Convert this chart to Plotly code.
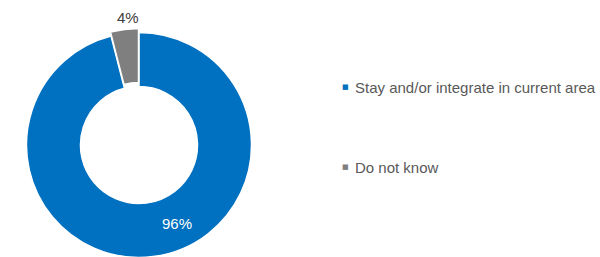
import plotly.graph_objects as go

labels = ["Stay and/or integrate in current area", "Do not know"]
values = [96, 4]
colors = ["#0070C0", "#7F7F7F"]
pct_text = ["96%", "4%"]

FONT = "Liberation Sans, Arial, sans-serif"
W, H = 600, 275  # page viewport is 257 tall; bottom of the ring is cut off as in the reference

CX, CY, R, PULL = 139, 145, 112.5, 0.035
half = R * (1 + PULL)

fig = go.Figure(go.Pie(
    labels=labels,
    values=values,
    hole=0.52,
    sort=False,
    direction="clockwise",
    rotation=0,
    pull=[0, PULL],
    marker=dict(colors=colors, line=dict(color="white", width=1.5)),
    textinfo="none",
    hoverinfo="label+percent",
    showlegend=False,
    domain=dict(x=[(CX - half) / W, (CX + half) / W],
                y=[1 - (CY + half) / H, 1 - (CY - half) / H]),
))

def px(x, y):
    return x / W, 1 - y / H

ann = []
x, y = px(177, 223)
ann.append(dict(x=x, y=y, xref="paper", yref="paper", text=pct_text[0], showarrow=False,
                xanchor="center", yanchor="middle",
                font=dict(family=FONT, size=15, color="white")))
x, y = px(128, 18)
ann.append(dict(x=x, y=y, xref="paper", yref="paper", text=pct_text[1], showarrow=False,
                xanchor="center", yanchor="middle",
                font=dict(family=FONT, size=15, color="#404040")))

leg_y = [87, 167]
for i, (lab, col) in enumerate(zip(labels, colors)):
    x, y = px(345, leg_y[i])
    ann.append(dict(x=x, y=y, xref="paper", yref="paper", text="■", showarrow=False,
                    xanchor="center", yanchor="middle",
                    font=dict(family="DejaVu Sans", size=7, color=col)))
    x, y = px(353, leg_y[i])
    ann.append(dict(x=x, y=y, xref="paper", yref="paper", text=lab, showarrow=False,
                    xanchor="left", yanchor="middle",
                    font=dict(family=FONT, size=15, color="#595959")))

fig.update_layout(
    width=W, height=H,
    margin=dict(l=0, r=0, t=0, b=0),
    paper_bgcolor="white",
    plot_bgcolor="white",
    annotations=ann,
)

fig.write_html("out.html", config={"displayModeBar": False},
               post_script="document.body.style.margin='0';document.body.style.overflow='hidden';")
